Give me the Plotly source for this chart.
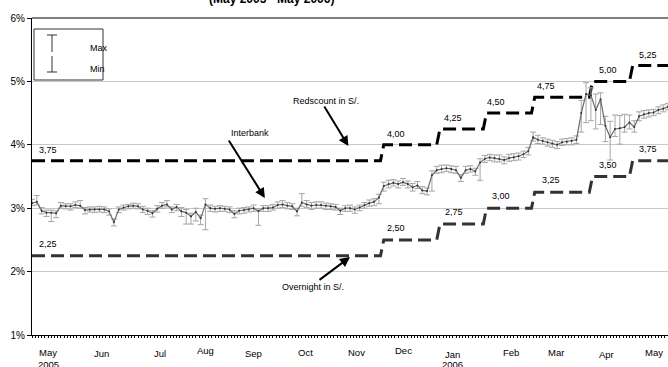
import plotly.graph_objects as go
import pandas as pd

FONT = "Liberation Sans Narrow, Arial Narrow, Liberation Sans, Arial, sans-serif"

# ---------------- data ----------------
# Interbank rate (%), sampled every 3 calendar days from 2 May 2005
ib_start = "2005-05-02"
interbank = [3.08,3.10,2.96,2.93,2.93,2.92,3.04,3.03,3.03,3.05,
             3.04,2.97,2.98,2.98,2.98,2.98,2.95,2.78,2.98,3.01,
             3.03,3.04,3.03,2.98,2.96,2.92,2.99,3.04,3.06,2.98,
             3.02,2.95,2.93,2.87,2.94,2.84,3.06,3.00,2.99,3.00,
             2.99,2.98,2.91,2.96,2.97,2.98,3.00,2.95,3.00,3.00,
             3.01,3.05,3.06,3.04,3.03,2.95,3.09,3.06,3.04,3.05,
             3.05,3.04,3.03,3.02,2.96,3.00,3.00,2.98,3.01,3.05,
             3.08,3.10,3.17,3.35,3.38,3.40,3.38,3.41,3.38,3.33,
             3.36,3.28,3.27,3.52,3.60,3.62,3.63,3.62,3.60,3.48,
             3.60,3.62,3.58,3.72,3.78,3.80,3.79,3.78,3.76,3.79,
             3.80,3.82,3.85,3.90,4.12,4.08,4.06,4.04,4.02,4.00,
             4.04,4.05,4.06,4.08,4.50,4.80,4.78,4.55,4.72,4.30,
             4.12,4.25,4.26,4.28,4.35,4.28,4.45,4.48,4.50,4.51,
             4.55,4.57,4.60]
# distance from value to daily Max
ib_max_dist = [0.06,0.10,0.05,0.04,0.04,0.04,0.05,0.04,0.04,0.05,
               0.08,0.04,0.04,0.04,0.05,0.04,0.04,0.05,0.04,0.04,
               0.03,0.04,0.04,0.05,0.04,0.04,0.05,0.05,0.06,0.04,
               0.04,0.06,0.05,0.05,0.06,0.05,0.09,0.05,0.04,0.04,
               0.04,0.04,0.05,0.04,0.04,0.04,0.05,0.04,0.04,0.04,
               0.05,0.05,0.06,0.05,0.04,0.05,0.14,0.06,0.05,0.05,
               0.05,0.04,0.04,0.04,0.04,0.04,0.05,0.04,0.04,0.04,
               0.05,0.05,0.05,0.06,0.06,0.05,0.05,0.06,0.05,0.06,
               0.06,0.06,0.05,0.07,0.06,0.06,0.05,0.05,0.06,0.05,
               0.06,0.05,0.05,0.06,0.05,0.05,0.05,0.06,0.05,0.06,
               0.06,0.05,0.05,0.06,0.08,0.07,0.05,0.05,0.05,0.05,
               0.05,0.05,0.05,0.06,0.20,0.18,0.12,0.25,0.10,0.15,
               0.25,0.22,0.20,0.20,0.12,0.10,0.07,0.06,0.05,0.05,
               0.05,0.06,0.05]
# distance from value to daily Min
ib_min_dist = [0.04,0.05,0.05,0.06,0.14,0.07,0.04,0.04,0.06,0.04,
               0.04,0.06,0.04,0.05,0.04,0.05,0.06,0.06,0.05,0.04,
               0.04,0.04,0.04,0.05,0.06,0.06,0.05,0.04,0.04,0.05,
               0.06,0.08,0.18,0.12,0.14,0.10,0.40,0.05,0.05,0.05,
               0.04,0.05,0.06,0.05,0.05,0.04,0.05,0.22,0.05,0.05,
               0.04,0.05,0.05,0.05,0.05,0.07,0.06,0.05,0.06,0.05,
               0.05,0.06,0.05,0.05,0.06,0.05,0.05,0.06,0.05,0.05,
               0.05,0.06,0.10,0.08,0.06,0.05,0.06,0.05,0.06,0.06,
               0.05,0.05,0.06,0.25,0.05,0.06,0.05,0.06,0.05,0.06,
               0.05,0.05,0.06,0.28,0.06,0.05,0.06,0.05,0.06,0.05,
               0.05,0.06,0.05,0.06,0.06,0.06,0.05,0.06,0.06,0.06,
               0.05,0.05,0.06,0.06,0.30,0.45,0.40,0.30,0.40,0.25,
               0.36,0.12,0.25,0.08,0.10,0.08,0.07,0.06,0.06,0.05,
               0.06,0.05,0.05]
ib_dates = pd.date_range(ib_start, periods=len(interbank), freq="3D")

# Step series (rediscount and overnight, S/.)
step_dates = ["2005-05-02", "2005-12-05", "2005-12-07", "2006-01-09", "2006-01-11",
              "2006-02-07", "2006-02-09", "2006-03-09", "2006-03-11", "2006-04-14",
              "2006-04-16", "2006-05-09", "2006-05-11", "2006-06-02"]
rediscount = [3.75, 3.75, 4.00, 4.00, 4.25, 4.25, 4.50, 4.50, 4.75, 4.75, 5.00, 5.00, 5.25, 5.25]
overnight = [2.25, 2.25, 2.50, 2.50, 2.75, 2.75, 3.00, 3.00, 3.25, 3.25, 3.50, 3.50, 3.75, 3.75]

# value labels of the steps
step_label_dates = ["2005-05-05", "2005-12-08", "2006-01-12", "2006-02-08",
                    "2006-03-11", "2006-04-19", "2006-05-14"]
redisc_labels = ["3,75", "4,00", "4,25", "4,50", "4,75", "5,00", "5,25"]
redisc_label_vals = [3.75, 4.00, 4.25, 4.50, 4.75, 5.00, 5.25]
over_label_dates = ["2005-05-05", "2005-12-08", "2006-01-13", "2006-02-11",
                    "2006-03-14", "2006-04-19", "2006-05-14"]
over_labels = ["2,25", "2,50", "2,75", "3,00", "3,25", "3,50", "3,75"]
over_label_vals = [2.25, 2.50, 2.75, 3.00, 3.25, 3.50, 3.75]

# month tick labels
month_labels = ["May", "Jun", "Jul", "Aug", "Sep", "Oct", "Nov", "Dec", "Jan", "Feb", "Mar", "Apr", "May"]
month_label_dates = ["2005-05-12", "2005-06-14", "2005-07-21", "2005-08-18", "2005-09-17",
                     "2005-10-19", "2005-11-20", "2005-12-19", "2006-01-19", "2006-02-24",
                     "2006-03-24", "2006-04-25", "2006-05-24"]
month_label_ypx = [352, 353, 353, 351, 353, 352, 352, 351, 354, 352, 352, 354, 352]
year_labels = ["2005", "2006"]
year_label_dates = ["2005-05-12", "2006-01-19"]

# ---------------- geometry helpers ----------------
H = 367
T, B, L = 18, 32, 32
PW = 668 - L
PH = H - T - B


def px_x(px):
    return (px - L) / PW


def px_y(py):
    return (H - B - py) / PH


fig = go.Figure()

fig.add_trace(go.Scatter(
    x=step_dates, y=rediscount, mode="lines",
    line=dict(color="#000000", width=3, dash="13px,6px"),
    hoverinfo="skip"))
fig.add_trace(go.Scatter(
    x=step_dates, y=overnight, mode="lines",
    line=dict(color="#333333", width=3, dash="13px,6px"),
    hoverinfo="skip"))
fig.add_trace(go.Scatter(
    x=ib_dates, y=interbank, mode="lines+markers",
    line=dict(color="#6a6a6a", width=1.2),
    marker=dict(size=2, color="#333333"),
    error_y=dict(type="data", symmetric=False, array=ib_max_dist,
                 arrayminus=ib_min_dist, color="#a6a6a6", thickness=1, width=3)))

annotations = []
small = dict(family=FONT, size=9, color="#000000")

for d, t, v in zip(step_label_dates, redisc_labels, redisc_label_vals):
    annotations.append(dict(x=d, y=v, xref="x", yref="y", text=t, showarrow=False,
                            xanchor="left", yanchor="middle", yshift=11, font=small))
for d, t, v in zip(over_label_dates, over_labels, over_label_vals):
    annotations.append(dict(x=d, y=v, xref="x", yref="y", text=t, showarrow=False,
                            xanchor="left", yanchor="middle", yshift=12, font=small))

for d, t, ypx in zip(month_label_dates, month_labels, month_label_ypx):
    annotations.append(dict(x=d, y=px_y(ypx), xref="x", yref="paper", text=t,
                            showarrow=False, xanchor="center", yanchor="middle",
                            font=dict(family=FONT, size=9.5, color="#000")))
for d, t in zip(year_label_dates, year_labels):
    annotations.append(dict(x=d, y=px_y(364), xref="x", yref="paper", text=t,
                            showarrow=False, xanchor="center", yanchor="middle",
                            font=dict(family=FONT, size=9.5, color="#000")))

# arrows (head at data location, tail offset in pixels)
arrow = dict(showarrow=True, arrowhead=2, arrowsize=1, arrowwidth=2,
             arrowcolor="#000000", text="", xref="x", yref="y")
annotations.append(dict(arrow, x="2005-11-15", y=3.98, ax=-25, ay=-41))
annotations.append(dict(arrow, x="2005-09-24", y=3.16, ax=-37, ay=-59))
annotations.append(dict(arrow, x="2005-11-16", y=2.23, ax=-32, ay=24))

annotations.append(dict(x=px_x(326), y=px_y(94), xref="paper", yref="paper",
                        text="Redscount in S/.", showarrow=False, font=small))
annotations.append(dict(x=px_x(229), y=px_y(133), xref="paper", yref="paper",
                        text="Interbank", showarrow=False, font=small))
annotations.append(dict(x=px_x(313), y=px_y(294), xref="paper", yref="paper",
                        text="Overnight in S/.", showarrow=False, font=small))

# legend texts
annotations.append(dict(x=px_x(88), y=px_y(41), xref="paper", yref="paper",
                        text="Max", showarrow=False, font=small))
annotations.append(dict(x=px_x(88), y=px_y(62), xref="paper", yref="paper",
                        text="Min", showarrow=False, font=small))

# title (partly outside the top of the picture)
annotations.append(dict(x=px_x(271), y=px_y(-1), xref="paper", yref="paper",
                        text="<b>(May 2005 - May 2006)</b>", showarrow=False,
                        yanchor="middle", font=dict(family=FONT, size=12, color="#000")))

shapes = [
    # top border at 6%
    dict(type="line", xref="paper", yref="paper", x0=0, x1=1, y0=1, y1=1,
         line=dict(color="#000", width=1)),
    # legend box
    dict(type="rect", xref="paper", yref="paper", x0=px_x(34), x1=px_x(103),
         y0=px_y(80), y1=px_y(29), line=dict(color="#333", width=1), fillcolor="white"),
    # legend Max symbol
    dict(type="line", xref="paper", yref="paper", x0=px_x(52), x1=px_x(52),
         y0=px_y(35), y1=px_y(52), line=dict(color="#333", width=1)),
    dict(type="line", xref="paper", yref="paper", x0=px_x(47), x1=px_x(57),
         y0=px_y(35), y1=px_y(35), line=dict(color="#333", width=1)),
    # legend Min symbol
    dict(type="line", xref="paper", yref="paper", x0=px_x(52), x1=px_x(52),
         y0=px_y(56), y1=px_y(72), line=dict(color="#333", width=1)),
    dict(type="line", xref="paper", yref="paper", x0=px_x(47), x1=px_x(57),
         y0=px_y(72), y1=px_y(72), line=dict(color="#333", width=1)),
]

fig.update_layout(
    width=668, height=367,
    margin=dict(l=L, r=0, t=T, b=B),
    plot_bgcolor="white", paper_bgcolor="white",
    showlegend=False,
    font=dict(family=FONT, size=10, color="#000"),
    annotations=annotations,
    shapes=shapes,
    xaxis=dict(type="date", range=["2005-05-02", "2006-06-02"], showgrid=False,
               showline=True, linecolor="#000", linewidth=1, zeroline=False,
               ticks="outside", ticklen=2, tickcolor="#000", dtick=2 * 86400000,
               tick0="2005-05-02", showticklabels=False),
    yaxis=dict(range=[1, 6], dtick=1, tick0=1, ticksuffix="%", showgrid=True,
               gridcolor="#c8c8c8", gridwidth=1, showline=True, linecolor="#000",
               linewidth=1, zeroline=False, ticks="outside", ticklen=4,
               tickcolor="#000", tickfont=dict(family=FONT, size=10)),
)

fig.write_html(
    "out.html",
    config={"displayModeBar": False},
    post_script="document.body.style.margin='0';document.body.style.overflow='hidden';",
)
